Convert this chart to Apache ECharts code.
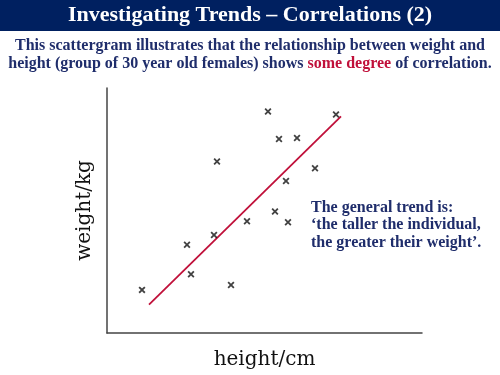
<!DOCTYPE html>
<html><head><meta charset="utf-8">
<script src="https://cdn.jsdelivr.net/npm/echarts@6/dist/echarts.min.js"></script>
<style>html,body{margin:0;padding:0;background:#fff}#c{width:500px;height:375px}</style>
</head><body><div id="c"></div>
<script>
// heights (arbitrary units, no ticks shown)
const heights = [35, 80, 84, 107, 110, 124, 140, 161, 168, 172, 179, 181, 190, 208, 229];
// weights (arbitrary units)
const weights = [44, 90, 60, 100, 175, 49, 114, 226, 124, 198, 155, 113, 199, 168, 223];
// trend line end points
const trendX = [42, 234];
const trendY = [29, 221];

const points = heights.map((h, i) => [h, weights[i]]);
const trend = trendX.map((x, i) => [x, trendY[i]]);

const chart = echarts.init(document.getElementById('c'), null, {renderer: 'canvas'});
const navy = '#1F2D6B';
const serif = '"Liberation Serif", "DejaVu Serif", serif';
const hand = '"DejaVu Serif", serif';
chart.setOption({
  animation: false,
  grid: {left: 107, top: 88, width: 315, height: 250},
  xAxis: {
    type: 'value', min: 0, max: 315,
    axisLine: {show: true, lineStyle: {color: '#444', width: 1.5}},
    axisTick: {show: false}, axisLabel: {show: false}, splitLine: {show: false},
    name: 'height/cm', nameLocation: 'middle', nameGap: 17,
    nameTextStyle: {fontFamily: hand, fontSize: 20, color: '#111'}
  },
  yAxis: {
    type: 'value', min: 0, max: 250,
    axisLine: {show: true, lineStyle: {color: '#444', width: 1.5}},
    axisTick: {show: false}, axisLabel: {show: false}, splitLine: {show: false},
    name: 'weight/kg', nameLocation: 'middle', nameGap: 12, nameRotate: 90,
    nameTextStyle: {fontFamily: hand, fontSize: 20, color: '#111'}
  },
  series: [
    {
      type: 'line', data: trend, symbol: 'none',
      lineStyle: {color: '#C0103A', width: 1.8}, z: 2
    },
    {
      type: 'scatter', data: points,
      symbol: 'path://M0,1.8L1.8,0L5,3.2L8.2,0L10,1.8L6.8,5L10,8.2L8.2,10L5,6.8L1.8,10L0,8.2L3.2,5Z',
      symbolSize: 7, itemStyle: {color: '#111'}, z: 3
    }
  ],
  graphic: [
    {type: 'rect', left: 0, top: 0, shape: {width: 500, height: 31}, style: {fill: '#002060'}},
    {type: 'text', left: 'center', top: 4, style: {
      text: 'Investigating Trends – Correlations (2)', fill: '#fff',
      font: 'bold 22px ' + serif}},
    {type: 'text', left: 'center', top: 38, style: {
      text: 'This scattergram illustrates that the relationship between weight and',
      fill: navy, font: 'bold 16px ' + serif}},
    {type: 'text', left: 'center', top: 56, style: {
      text: '{a|height (group of 30 year old females) shows }{r|some degree}{a| of correlation.}',
      fill: navy, font: 'bold 16px ' + serif,
      rich: {
        a: {fill: navy, font: 'bold 16px ' + serif},
        r: {fill: '#C0103A', font: 'bold 16px ' + serif}
      }}},
    {type: 'text', left: 311, top: 199, style: {
      text: 'The general trend is:\n‘the taller the individual,\nthe greater their weight’.',
      fill: navy, font: 'bold 16px ' + serif, lineHeight: 17.5}}
  ]
});
</script></body></html>
